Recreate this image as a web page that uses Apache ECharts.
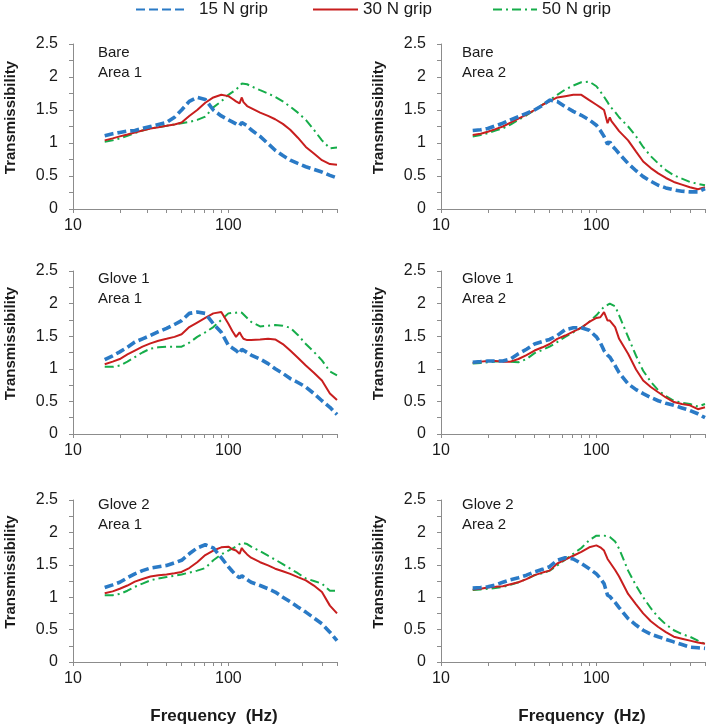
<!DOCTYPE html>
<html><head><meta charset="utf-8">
<script src="https://cdn.jsdelivr.net/npm/echarts@6/dist/echarts.min.js"></script>
<style>html,body{margin:0;padding:0;background:#fff}#c{width:707px;height:728px}</style>
</head><body><div id="c"></div>
<script>
// Frequency grid (Hz)
const freq = [16, 18, 20, 22.4, 25, 28, 31.5, 35.5, 40, 45, 50, 56, 63, 71, 80, 90, 100, 106, 112, 118, 122, 125, 132, 140, 160, 180, 200, 224, 250, 280, 315, 355, 400, 450, 500];

const seriesNames = ['15 N grip', '30 N grip', '50 N grip'];
const panelLabels = ['Bare\nArea 1', 'Bare\nArea 2', 'Glove 1\nArea 1', 'Glove 1\nArea 2', 'Glove 2\nArea 1', 'Glove 2\nArea 2'];
const yTickLabels = ['0', '0.5', '1', '1.5', '2', '2.5'];
const xTickLabels = ['10', '100'];

// Bare, Area 1
const bareA1_15 = [1.11,1.14,1.16,1.18,1.19,1.22,1.25,1.28,1.31,1.39,1.50,1.63,1.69,1.66,1.50,1.41,1.35,1.32,1.29,1.26,1.31,1.30,1.26,1.20,1.10,0.99,0.89,0.81,0.74,0.69,0.64,0.60,0.56,0.51,0.47];
const bareA1_30 = [1.04,1.07,1.10,1.13,1.16,1.19,1.22,1.24,1.26,1.28,1.31,1.41,1.50,1.61,1.69,1.73,1.71,1.67,1.63,1.60,1.69,1.62,1.56,1.53,1.46,1.41,1.36,1.29,1.20,1.08,0.94,0.84,0.74,0.68,0.67];
const bareA1_50 = [1.02,1.04,1.07,1.11,1.15,1.19,1.22,1.24,1.26,1.28,1.30,1.32,1.35,1.40,1.54,1.63,1.73,1.77,1.81,1.86,1.90,1.92,1.89,1.86,1.80,1.75,1.70,1.63,1.55,1.46,1.35,1.20,1.04,0.92,0.93];
// Bare, Area 2
const bareA2_15 = [1.19,1.20,1.22,1.26,1.30,1.35,1.40,1.45,1.50,1.57,1.65,1.63,1.55,1.48,1.42,1.35,1.27,1.19,1.10,0.98,1.02,0.97,0.91,0.84,0.69,0.58,0.49,0.42,0.36,0.32,0.29,0.27,0.26,0.26,0.31];
const bareA2_30 = [1.12,1.14,1.17,1.21,1.25,1.31,1.37,1.43,1.50,1.58,1.63,1.69,1.71,1.73,1.73,1.65,1.58,1.54,1.50,1.30,1.39,1.33,1.26,1.18,1.04,0.87,0.72,0.62,0.54,0.47,0.41,0.37,0.33,0.30,0.33];
const bareA2_50 = [1.10,1.12,1.15,1.19,1.22,1.28,1.35,1.42,1.50,1.58,1.65,1.73,1.81,1.87,1.92,1.93,1.86,1.78,1.70,1.62,1.56,1.53,1.47,1.39,1.25,1.10,0.94,0.80,0.69,0.59,0.51,0.46,0.41,0.38,0.36];
// Glove 1, Area 1
const glove1A1_15 = [1.14,1.20,1.26,1.33,1.41,1.46,1.51,1.57,1.62,1.68,1.74,1.85,1.87,1.85,1.69,1.56,1.36,1.32,1.28,1.23,1.30,1.29,1.25,1.21,1.15,1.08,1.00,0.93,0.85,0.79,0.72,0.62,0.51,0.41,0.30];
const glove1A1_30 = [1.07,1.11,1.15,1.22,1.28,1.34,1.39,1.43,1.46,1.49,1.53,1.64,1.71,1.78,1.85,1.87,1.69,1.58,1.49,1.56,1.50,1.46,1.44,1.44,1.45,1.46,1.45,1.38,1.28,1.17,1.05,0.94,0.82,0.62,0.52];
const glove1A1_50 = [1.03,1.03,1.05,1.11,1.18,1.25,1.31,1.33,1.34,1.34,1.34,1.40,1.49,1.56,1.64,1.75,1.85,1.86,1.86,1.87,1.86,1.85,1.78,1.72,1.65,1.66,1.67,1.66,1.63,1.52,1.38,1.26,1.13,0.96,0.90];
// Glove 1, Area 2
const glove1A2_15 = [1.10,1.11,1.12,1.12,1.12,1.15,1.23,1.30,1.38,1.42,1.45,1.51,1.60,1.63,1.63,1.59,1.49,1.40,1.28,1.21,1.18,1.15,1.05,0.94,0.77,0.68,0.62,0.56,0.51,0.47,0.44,0.40,0.36,0.31,0.25];
const glove1A2_30 = [1.09,1.11,1.12,1.12,1.11,1.11,1.15,1.21,1.28,1.33,1.38,1.46,1.51,1.57,1.63,1.72,1.78,1.79,1.87,1.74,1.74,1.74,1.64,1.46,1.23,0.99,0.82,0.72,0.64,0.56,0.49,0.46,0.44,0.38,0.41];
const glove1A2_50 = [1.08,1.09,1.10,1.11,1.12,1.11,1.10,1.15,1.24,1.29,1.34,1.41,1.49,1.56,1.63,1.72,1.82,1.89,1.95,1.98,2.00,2.00,1.96,1.82,1.49,1.20,0.97,0.80,0.67,0.58,0.51,0.48,0.46,0.42,0.46];
// Glove 2, Area 1
const glove2A1_15 = [1.15,1.19,1.23,1.30,1.36,1.41,1.45,1.47,1.49,1.53,1.57,1.67,1.76,1.81,1.76,1.61,1.47,1.40,1.34,1.30,1.33,1.30,1.27,1.23,1.18,1.13,1.08,1.00,0.93,0.85,0.77,0.68,0.59,0.46,0.33];
const glove2A1_30 = [1.06,1.09,1.13,1.18,1.24,1.28,1.32,1.34,1.35,1.37,1.39,1.45,1.54,1.65,1.72,1.77,1.78,1.74,1.72,1.67,1.76,1.72,1.66,1.61,1.54,1.49,1.44,1.40,1.36,1.31,1.26,1.18,1.08,0.87,0.75];
const glove2A1_50 = [1.03,1.03,1.05,1.10,1.16,1.21,1.26,1.29,1.31,1.33,1.35,1.38,1.41,1.45,1.57,1.66,1.72,1.75,1.78,1.82,1.84,1.85,1.82,1.78,1.71,1.64,1.58,1.51,1.44,1.37,1.29,1.25,1.21,1.10,1.10];
// Glove 2, Area 2
const glove2A2_15 = [1.14,1.15,1.16,1.19,1.23,1.27,1.30,1.34,1.39,1.43,1.47,1.57,1.61,1.59,1.52,1.44,1.36,1.29,1.21,1.03,1.01,0.98,0.92,0.84,0.67,0.57,0.49,0.43,0.39,0.35,0.31,0.27,0.23,0.22,0.21];
const glove2A2_30 = [1.12,1.13,1.15,1.16,1.17,1.20,1.23,1.28,1.34,1.38,1.41,1.52,1.58,1.64,1.70,1.77,1.80,1.77,1.72,1.59,1.54,1.52,1.42,1.32,1.05,0.89,0.75,0.63,0.54,0.46,0.39,0.36,0.33,0.30,0.28];
const glove2A2_50 = [1.11,1.12,1.13,1.14,1.16,1.19,1.23,1.28,1.34,1.37,1.41,1.49,1.58,1.67,1.76,1.88,1.95,1.95,1.95,1.94,1.93,1.93,1.86,1.75,1.41,1.18,1.00,0.83,0.69,0.58,0.49,0.43,0.39,0.33,0.28];

const panelData = [
  [bareA1_15, bareA1_30, bareA1_50],
  [bareA2_15, bareA2_30, bareA2_50],
  [glove1A1_15, glove1A1_30, glove1A1_50],
  [glove1A2_15, glove1A2_30, glove1A2_50],
  [glove2A1_15, glove2A1_30, glove2A1_50],
  [glove2A2_15, glove2A2_30, glove2A2_50]
];

const FONT = '"Liberation Sans", Arial, sans-serif';
const AXIS_COLOR = '#8c8c8c';
const TEXT_COLOR = '#1a1a1a';
const colors = ['#2a7ac6', '#c81e1e', '#16ad4a'];
const lineStyles = [
  { width: 3.6, type: [9, 4] },
  { width: 2, type: 'solid' },
  { width: 2, type: [9, 4, 2, 4] }
];

const gridPos = [
  { left: 73, top: 44, width: 264, height: 165 },
  { left: 441, top: 44, width: 264, height: 165 },
  { left: 73, top: 271, width: 264, height: 163 },
  { left: 441, top: 271, width: 264, height: 163 },
  { left: 73, top: 500, width: 264, height: 162 },
  { left: 441, top: 500, width: 264, height: 162 }
];
const labelPos = [
  { left: 98, top: 43 }, { left: 462, top: 43 },
  { left: 98, top: 269 }, { left: 462, top: 269 },
  { left: 98, top: 495 }, { left: 462, top: 495 }
];

const grids = [], xAxes = [], yAxes = [], series = [], titles = [];
gridPos.forEach((g, i) => {
  grids.push(Object.assign({ containLabel: false }, g));
  const bottomRow = i >= 4;
  xAxes.push({
    type: 'log', logBase: 10, gridIndex: i, min: 10, max: 500,
    name: bottomRow ? 'Frequency  (Hz)' : '',
    nameLocation: 'middle', nameGap: 46,
    nameTextStyle: { fontFamily: FONT, fontSize: 17, fontWeight: 'bold', color: TEXT_COLOR, padding: [0, 0, 0, 18] },
    axisLine: { show: true, lineStyle: { color: AXIS_COLOR, width: 1 } },
    axisTick: { show: true, length: 4, lineStyle: { color: AXIS_COLOR } },
    minorTick: { show: true, splitNumber: 9, length: 4, lineStyle: { color: AXIS_COLOR } },
    splitLine: { show: false },
    axisLabel: {
      fontFamily: FONT, fontSize: 16, color: TEXT_COLOR, margin: 9, showMaxLabel: false,
      formatter: v => (xTickLabels.indexOf(String(v)) >= 0 ? String(v) : '')
    }
  });
  yAxes.push({
    type: 'value', gridIndex: i, min: 0, max: 2.5, interval: 0.5,
    name: 'Transmissibility', nameLocation: 'middle', nameGap: 55, nameRotate: 90,
    nameTextStyle: { fontFamily: FONT, fontSize: 15, fontWeight: 'bold', color: TEXT_COLOR, padding: [0, 0, 0, 18] },
    axisLine: { show: true, lineStyle: { color: AXIS_COLOR, width: 1 } },
    axisTick: { show: true, length: 4, lineStyle: { color: AXIS_COLOR } },
    minorTick: { show: true, splitNumber: 2, length: 4, lineStyle: { color: AXIS_COLOR } },
    splitLine: { show: false },
    axisLabel: {
      fontFamily: FONT, fontSize: 16, color: TEXT_COLOR, margin: 15,
      formatter: v => yTickLabels[Math.round(v / 0.5)]
    }
  });
  titles.push({
    text: panelLabels[i], left: labelPos[i].left, top: labelPos[i].top, padding: 0,
    textStyle: { fontFamily: FONT, fontSize: 15, fontWeight: 'normal', color: TEXT_COLOR, lineHeight: 20 }
  });
  panelData[i].forEach((arr, k) => {
    series.push({
      name: seriesNames[k], type: 'line', xAxisIndex: i, yAxisIndex: i,
      data: freq.map((f, j) => [f, arr[j]]),
      showSymbol: false, symbol: 'none', smooth: false,
      lineStyle: Object.assign({ color: colors[k] }, lineStyles[k]),
      itemStyle: { color: colors[k] },
      z: 3 - k
    });
  });
});

const legendCommon = {
  top: 1, padding: 0, itemHeight: 14,
  itemStyle: { opacity: 0 },
  textStyle: { fontFamily: FONT, fontSize: 17, color: TEXT_COLOR }
};
const legends = [
  Object.assign({}, legendCommon, { left: 135, itemWidth: 48, data: [seriesNames[0]], textStyle: Object.assign({}, legendCommon.textStyle, { padding: [0, 0, 0, 10] }) }),
  Object.assign({}, legendCommon, { left: 312, itemWidth: 45, data: [seriesNames[1]] }),
  Object.assign({}, legendCommon, { left: 492, itemWidth: 44, data: [seriesNames[2]] })
];

const chart = echarts.init(document.getElementById('c'), null, { renderer: 'canvas' });
chart.setOption({
  animation: false,
  backgroundColor: '#ffffff',
  title: titles,
  legend: legends,
  grid: grids,
  xAxis: xAxes,
  yAxis: yAxes,
  series: series
});
</script>
</body></html>
